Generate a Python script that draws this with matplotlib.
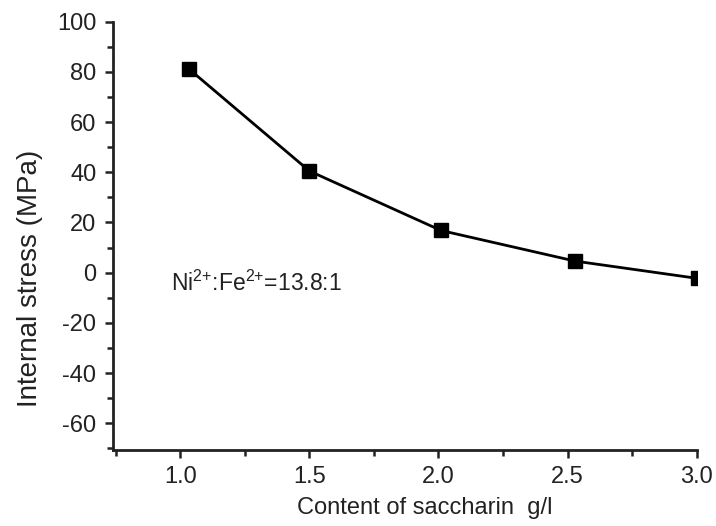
import matplotlib
matplotlib.use('Agg')
import matplotlib.pyplot as plt
from matplotlib.ticker import MultipleLocator

saccharin = [1.035, 1.5, 2.01, 2.53, 3.005]
stress = [81, 40.5, 16.8, 4.6, -2.3]
xticks = [1.0, 1.5, 2.0, 2.5, 3.0]
yticks = [-60, -40, -20, 0, 20, 40, 60, 80, 100]

plt.rcParams['font.family'] = ['Liberation Sans', 'DejaVu Sans']
plt.rcParams['mathtext.fontset'] = 'custom'
plt.rcParams['mathtext.rm'] = 'Liberation Sans'
plt.rcParams['axes.unicode_minus'] = False

fig = plt.figure(figsize=(7.16, 5.26), dpi=100)
ax = fig.add_axes([0.158, 0.145, 0.815, 0.814])

ax.plot(saccharin, stress, color='black', linewidth=2, marker='s',
        markersize=10, markeredgecolor='black', markerfacecolor='black')

# composition note inside the plot
ax.text(0.965, -7.3, r'Ni$^{\mathregular{2{+}}}$:Fe$^{\mathregular{2{+}}}$=13.8:1', fontsize=16.5,
        color='#222222', va='baseline', ha='left')

ax.set_xlim(0.74, 3.0)
ax.set_ylim(-70.5, 100)
ax.set_xticks(xticks)
ax.set_xticklabels(['%.1f' % v for v in xticks])
ax.set_yticks(yticks)
ax.xaxis.set_minor_locator(MultipleLocator(0.25))
ax.yaxis.set_minor_locator(MultipleLocator(10))

for s in ['top', 'right']:
    ax.spines[s].set_visible(False)
for s in ['left', 'bottom']:
    ax.spines[s].set_linewidth(2)
    ax.spines[s].set_color('#222222')

ax.tick_params(which='major', direction='out', length=6, width=1.8,
               colors='#222222', pad=6, labelsize=17)
ax.tick_params(which='minor', direction='out', length=4, width=1.8,
               colors='#222222')

ax.set_xlabel('Content of saccharin  g/l', fontsize=17, color='#222222')
ax.xaxis.set_label_coords(0.534, -0.11)
ax.set_ylabel('Internal stress (MPa)', fontsize=20, color='#222222', va='center')
ax.yaxis.set_label_coords(-0.142, 0.4)

plt.savefig('out.png', dpi=100)
